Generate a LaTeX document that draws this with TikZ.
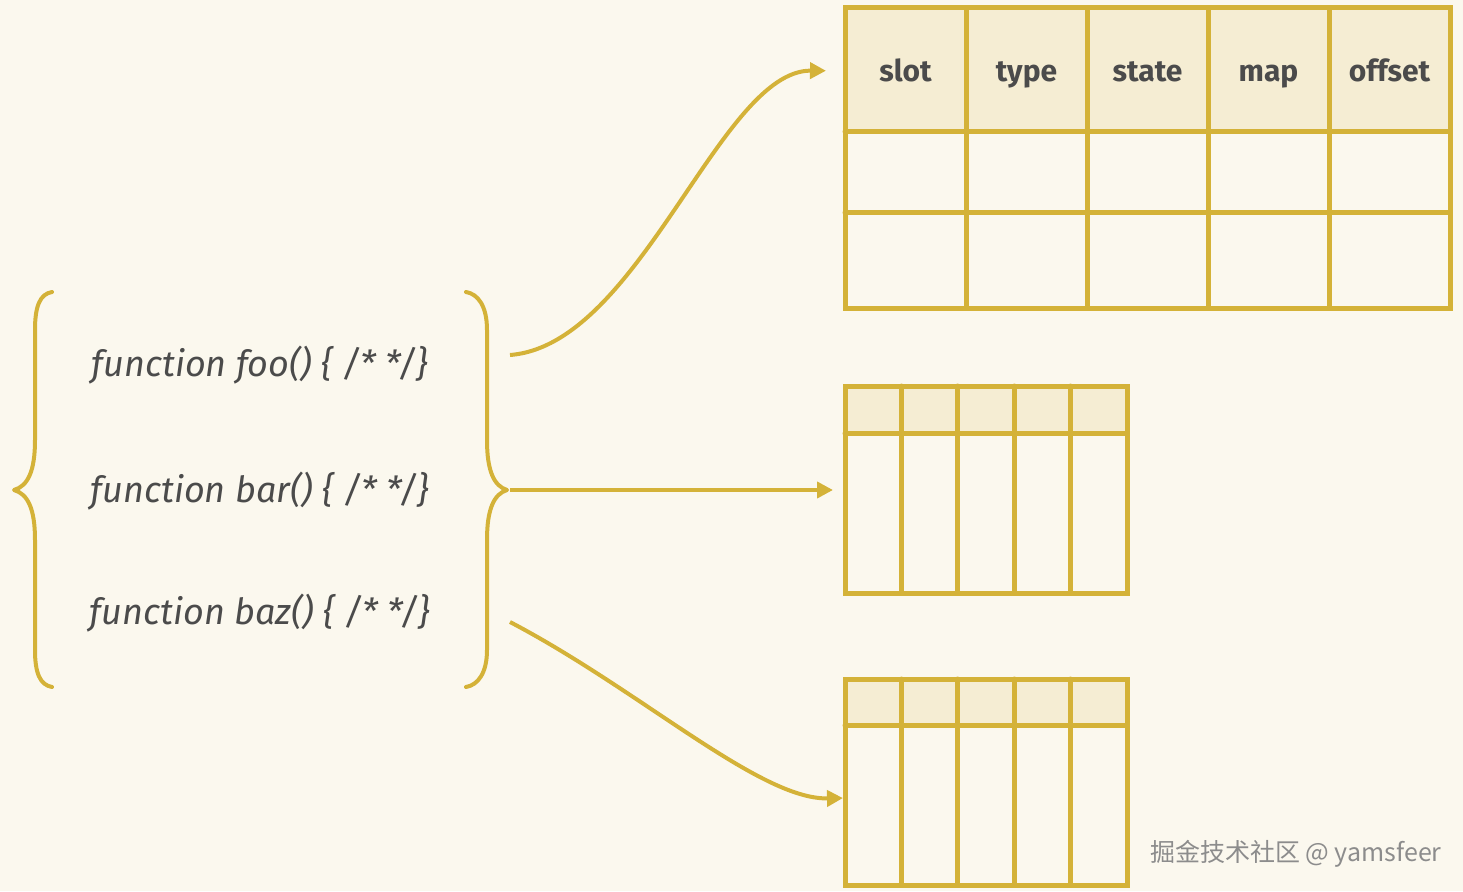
\documentclass[tikz,border=0pt]{standalone}
\usepackage{fontspec}
\setmainfont{Fira Sans}
\newfontfamily\cjkfont{Noto Sans CJK SC}
\usetikzlibrary{arrows.meta,positioning,calc}

\definecolor{paper}{RGB}{251,248,238}
\definecolor{gold}{RGB}{212,178,56}
\definecolor{hdrfill}{RGB}{245,237,211}
\definecolor{ink}{RGB}{75,75,75}

\begin{document}
\begin{tikzpicture}[
        x=0.5pt, y=0.5pt,
        tbl/.style={
            rectangle, draw=gold, line width=2.5pt, fill=paper,
            anchor=north west, inner sep=0pt, outer sep=0pt
        },
        grid/.style={draw=gold, line width=2.5pt, line cap=round},
        hcell/.style={font=\fontsize{15}{18}\selectfont\bfseries, text=ink, anchor=base},
        fn/.style={font=\fontsize{18}{21}\selectfont\itshape, text=ink, anchor=base},
        brace/.style={draw=gold, line width=2pt, line cap=round, line join=round},
        link/.style={draw=gold, line width=2pt, -{Triangle[length=8pt,width=8pt]}}
    ]
    \fill[paper] (0,0) rectangle (1463,891);
    \useasboundingbox (0,0) rectangle (1463,891);

    % Right: tables
    \node[tbl, minimum width=302.5pt, minimum height=150pt] (t1) at (845,883) {};
    \node[tbl, minimum width=141pt, minimum height=103.5pt] (t2) at (845,505) {};
    \node[tbl, minimum width=141pt, minimum height=103pt] (t3) at (845,212) {};

    % header rows
    \fill[hdrfill] (t1.north west) rectangle ($(t1.north east)+(0,-124)$);
    \fill[hdrfill] (t2.north west) rectangle ($(t2.north east)+(0,-47)$);
    \fill[hdrfill] (t3.north west) rectangle ($(t3.north east)+(0,-46)$);

    % grid lines
    \draw[grid] ($(t1.north west)+(0,-124)$) -- ($(t1.north east)+(0,-124)$);
    \draw[grid] ($(t1.north west)+(0,-205)$) -- ($(t1.north east)+(0,-205)$);
    \draw[grid] ($(t2.north west)+(0,-47)$) -- ($(t2.north east)+(0,-47)$);
    \draw[grid] ($(t3.north west)+(0,-46)$) -- ($(t3.north east)+(0,-46)$);
    \foreach \t in {t1,t2,t3} {
        \foreach \i in {1,...,4}
            \draw[grid] ($(\t.north west)!\i/5!(\t.north east)$) -- ($(\t.south west)!\i/5!(\t.south east)$);
        \draw[grid, line join=round] (\t.north west) rectangle (\t.south east);
    }

    % column names
    \foreach \lbl [count=\i] in {slot,type,state,map,offset}
        \node[hcell] (h\i) at ($(t1.north west)+({(\i-0.5)*121},-74)$) {\lbl};

    % Left: functions
    \node[fn] (foo) at (260,515) {function foo() \{ /* */\}};
    \node[fn] (bar) at (260,389) {function bar() \{ /* */\}};
    \node[fn] (baz) at (260,267) {function baz() \{ /* */\}};

    % braces
    \draw[brace] (52,599) .. controls (40,597) and (35,585) .. (35,561) -- (35,451)
        .. controls (35,420) and (28,405) .. (14,401)
        .. controls (28,397) and (35,382) .. (35,351) -- (35,241)
        .. controls (35,218) and (40,206) .. (52,204);
    \draw[brace] (466,599) .. controls (478,597) and (487,585) .. (487,561) -- (487,451)
        .. controls (487,420) and (494,405) .. (507,401)
        .. controls (494,397) and (487,382) .. (487,351) -- (487,241)
        .. controls (487,218) and (478,206) .. (466,204);

    \coordinate (r1) at (510,536);
    \coordinate (r2) at (510,401);
    \coordinate (r3) at (510,269);

    % Arrows: functions -> tables
    \draw[link, shorten >=9.5pt] (r1) .. controls (640,546) and (720,821) .. (t1.west |- h1.center);
    \draw[link, shorten >=6pt] (r2) -- (r2 -| t2.west);
    \draw[link, shorten >=1pt] (r3) .. controls (640,201) and (760,91) .. ([yshift=-8pt]t3.west);

    % watermark
    \node[font=\cjkfont\fontsize{12.5}{15}\selectfont, text=black!45, anchor=base west] (wm) at (1143,30) {掘金技术社区 @ yamsfeer};
\end{tikzpicture}
\end{document}
